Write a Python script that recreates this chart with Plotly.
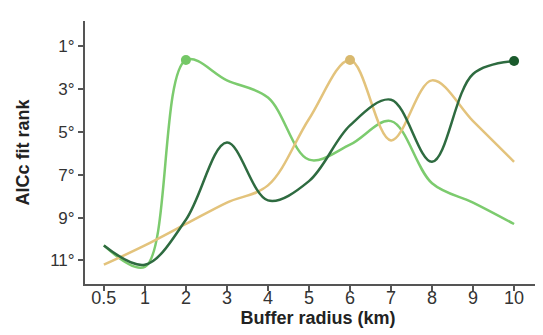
import plotly.graph_objects as go

radius_labels = ["0.5", "1", "2", "3", "4", "5", "6", "7", "8", "9", "10"]
rank_light = [10.3, 11.3, 1.65, 2.6, 3.4, 6.3, 5.6, 4.5, 7.4, 8.3, 9.3]
rank_yellow = [11.2, 10.3, 9.3, 8.3, 7.5, 4.4, 1.65, 5.4, 2.6, 4.5, 6.4]
rank_dark = [10.3, 11.2, 9.1, 5.5, 8.2, 7.3, 4.7, 3.5, 6.4, 2.3, 1.7]
best_idx = {"light": 2, "yellow": 6, "dark": 10}
y_ticks = [1, 3, 5, 7, 9, 11]
y_tick_text = ["1°", "3°", "5°", "7°", "9°", "11°"]

series = [
    ("light", rank_light, "#7ccb6e", "#74c766"),
    ("yellow", rank_yellow, "#e3c37c", "#d9b96e"),
    ("dark", rank_dark, "#2e6b40", "#1a5a2c"),
]

xs = list(range(len(radius_labels)))
fig = go.Figure()
for name, vals, col, mcol in series:
    fig.add_trace(go.Scatter(
        x=xs, y=vals, mode="lines",
        line=dict(color=col, width=2.5, shape="spline", smoothing=1.0),
        showlegend=False, hoverinfo="skip"))
    i = best_idx[name]
    fig.add_trace(go.Scatter(
        x=[xs[i]], y=[vals[i]], mode="markers",
        marker=dict(color=mcol, size=10),
        showlegend=False, hoverinfo="skip"))

font = "Arial, Liberation Sans, sans-serif"
fig.update_layout(
    width=543, height=335,
    margin=dict(l=77, r=0, t=13, b=59),
    plot_bgcolor="white", paper_bgcolor="white",
    font=dict(family=font, size=18, color="#333333"),
    xaxis=dict(
        range=[-0.46, 10.9], tickmode="array", tickvals=xs, ticktext=radius_labels,
        showgrid=False, zeroline=False, showline=True, linecolor="#555555", linewidth=2,
        ticks="outside", ticklen=5, tickcolor="#555555", tickwidth=1.5,
        ticklabelstandoff=-9,
        tickfont=dict(size=18, color="#333333"),
        title=dict(text="<b>Buffer radius (km)</b>", font=dict(size=18, color="#222222"), standoff=5),
    ),
    yaxis=dict(
        range=[12.1, -0.17], tickmode="array", tickvals=y_ticks, ticktext=y_tick_text,
        showgrid=False, zeroline=False, showline=True, linecolor="#555555", linewidth=2,
        ticks="outside", ticklen=5, tickcolor="#555555", tickwidth=1.5,
        tickfont=dict(size=17, color="#333333"),
        title=dict(text="<b>AICc fit rank</b>", font=dict(size=18, color="#222222"), standoff=16),
    ),
)
fig.write_html("out.html")
